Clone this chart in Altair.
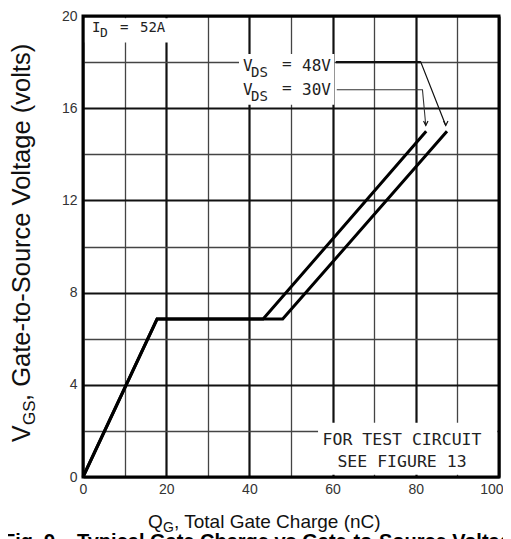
import altair as alt
import pandas as pd

# ---- data ----
series_names = ["VDS = 30V", "VDS = 48V"]
qg_30v = [0, 17.8, 43.3, 82.5]
vgs_30v = [0, 6.85, 6.85, 15.0]
qg_48v = [0, 17.8, 48.0, 87.5]
vgs_48v = [0, 6.85, 6.85, 15.0]

x_ticks = [0, 10, 20, 30, 40, 50, 60, 70, 80, 90, 100]
y_ticks = [0, 2, 4, 6, 8, 10, 12, 14, 16, 18, 20]

# leader lines from the labels to the curve ends
lead_48_q = [60.8, 81.2, 87.2]
lead_48_v = [18.0, 18.0, 15.25]
lead_30_q = [61.0, 81.6, 82.4]
lead_30_v = [16.8, 16.8, 15.25]

rows = []
for name, qs, vs in [(series_names[0], qg_30v, vgs_30v), (series_names[1], qg_48v, vgs_48v)]:
    for i, (q, v) in enumerate(zip(qs, vs)):
        rows.append({"series": name, "i": i, "qg": q, "vgs": v})
curves = pd.DataFrame(rows)

lead_rows = []
for name, qs, vs in [("48", lead_48_q, lead_48_v), ("30", lead_30_q, lead_30_v)]:
    for i, (q, v) in enumerate(zip(qs, vs)):
        lead_rows.append({"lead": name, "i": i, "qg": q, "vgs": v})
leads = pd.DataFrame(lead_rows)
tips = leads[leads["i"] == 2]

W, H = 416, 461

xs = alt.Scale(domain=[0, 100], nice=False, zero=False)
ys = alt.Scale(domain=[0, 20], nice=False, zero=False)

major_x = "datum.value % 20 === 0"
major_y = "datum.value % 4 === 0"

x_axis = alt.Axis(
    values=x_ticks, title=None, domain=False, ticks=False,
    labelExpr=f"{major_x} ? datum.label : ''",
    labelFont="Liberation Sans", labelFontSize=14, labelColor="#333",
    labelPadding=5, labelOverlap=False, labelFlush=True, labelFlushOffset=4,
    labelBound=False,
    grid=True,
    gridColor={"condition": {"test": major_x, "value": "#111"}, "value": "#444"},
    gridWidth={"condition": {"test": major_x, "value": 2.2}, "value": 1.3},
)
y_axis = alt.Axis(
    values=y_ticks, title=None, domain=False, ticks=False,
    labelExpr=f"{major_y} ? datum.label : ''",
    labelFont="Liberation Sans", labelFontSize=14, labelColor="#333",
    labelPadding=6, labelOverlap=False, labelFlush=False, labelBound=False,
    grid=True,
    gridColor={"condition": {"test": major_y, "value": "#111"}, "value": "#444"},
    gridWidth={"condition": {"test": major_y, "value": 2.2}, "value": 1.3},
)


def X(f):
    return alt.X(f, type="quantitative", scale=xs, axis=x_axis)


def Y(f):
    return alt.Y(f, type="quantitative", scale=ys, axis=y_axis)


X2 = lambda f: alt.X2(f)
Y2 = lambda f: alt.Y2(f)

# white boxes behind annotations (hide grid)
boxes = pd.DataFrame({
    "a": [0.4, 37.5, 56.5],
    "b": [28.0, 60.4, 99.6],
    "c": [18.85, 16.15, 0.1],
    "d": [19.9, 18.35, 2.35],
})
box_layer = alt.Chart(boxes).mark_rect(fill="white", stroke=None).encode(
    x=X("a"), x2=X2("b"), y=Y("c"), y2=Y2("d")
)

curve_layer = alt.Chart(curves).mark_line(color="black", strokeWidth=3, strokeJoin="miter").encode(
    x=X("qg"), y=Y("vgs"), detail="series:N", order="i:Q"
)

lead48 = alt.Chart(leads[leads["lead"] == "48"]).mark_line(color="#111", strokeWidth=1.2).encode(
    x=X("qg"), y=Y("vgs"), order="i:Q"
)
lead48_thick = alt.Chart(leads[(leads["lead"] == "48") & (leads["i"] < 2)]).mark_line(color="#111", strokeWidth=2.4).encode(
    x=X("qg"), y=Y("vgs"), order="i:Q"
)
lead30 = alt.Chart(leads[leads["lead"] == "30"]).mark_line(color="#333", strokeWidth=1.1).encode(
    x=X("qg"), y=Y("vgs"), order="i:Q"
)
arrow_layer = alt.Chart(tips).mark_point(
    shape="M-0.7,-1.4L0,0L0.7,-1.4", filled=False, color="#111", strokeWidth=1.2, size=40, opacity=1
).encode(x=X("qg"), y=Y("vgs"))

dummy = pd.DataFrame({"k": [0]})


def label(txt, px, py, font="DejaVu Sans Mono", size=14, color="#222", align="left", angle=0, weight="normal"):
    kw = dict(text=txt, align=align, baseline="alphabetic", font=font, fontSize=size,
              color=color, fontWeight=weight)
    if angle:
        kw["angle"] = angle
    return alt.Chart(dummy).mark_text(**kw).encode(x=alt.value(px), y=alt.value(py))


mono = "DejaVu Sans Mono"
sans = "Liberation Sans"
texts = [
    # I_D = 52A
    label("I", 9, 16, size=14),
    label("D", 17, 21, size=13),
    label("=", 37, 16, size=14),
    label("52A", 57, 16, size=14),
    # V_DS labels
    label("V", 160, 55, size=16),
    label("DS", 168, 61, size=14),
    label("=", 199, 53, size=16),
    label("48V", 219, 55, size=16),
    label("V", 160, 79, size=16),
    label("DS", 168, 85, size=14),
    label("=", 199, 77, size=16),
    label("30V", 219, 79, size=16),
    # test circuit note
    label("FOR TEST CIRCUIT", 319, 429, size=16.5, align="center"),
    label("SEE FIGURE 13", 319, 451, size=16.5, align="center"),
    # x title
    label("Q", 65, 512, font=sans, size=19, color="#111"),
    label("G", 80, 516, font=sans, size=14, color="#111"),
    label(", Total Gate Charge (nC)", 91, 512, font=sans, size=19, color="#111"),
    # y title (rotated)
    label("V", -53, 426, font=sans, size=25, color="#111", angle=270),
    label("GS", -48, 409, font=sans, size=17, color="#111", angle=270),
    label(", Gate-to-Source Voltage (volts)", -53, 385, font=sans, size=25.5, color="#111", angle=270),
    # caption (cut off by the page bottom)
    label("Fig. 9.", -80, 532, font=sans, size=20, color="#000", weight="bold"),
    label("Typical Gate Charge vs Gate-to-Source Voltage", -6, 532, font=sans, size=20, color="#000", weight="bold"),
]

frame = alt.Chart(dummy).mark_rect(filled=False, stroke="black", strokeWidth=3).encode(
    x=alt.value(0), x2=alt.value(W), y=alt.value(0), y2=alt.value(H)
)

chart = alt.layer(
    box_layer, curve_layer, lead48, lead48_thick, lead30, arrow_layer, frame, *texts
).properties(
    width=W, height=H,
    autosize=alt.AutoSizeParams(type="none"),
    padding={"left": 75, "top": 8, "right": 4, "bottom": 62},
    background="white",
).configure_view(stroke=None)

chart.save("out.html", embed_options={"renderer": "svg", "actions": False})
